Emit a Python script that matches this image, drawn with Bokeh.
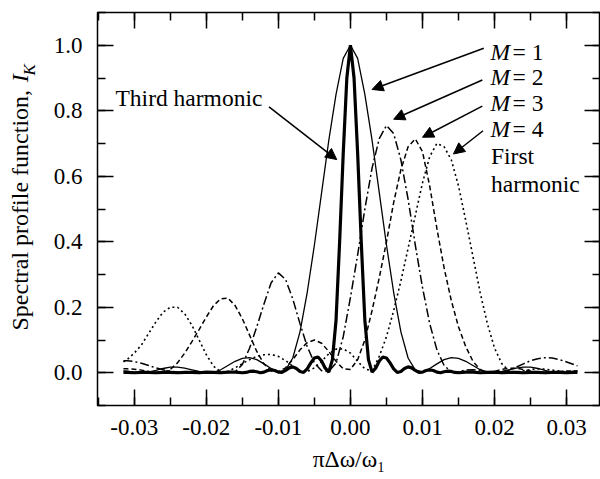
import math
from bokeh.plotting import figure
from bokeh.layouts import row
from bokeh.models import (Range1d, LinearAxis, SingleIntervalTicker, PrintfTickFormatter,
                          CustomJSTickFormatter, Arrow, NormalHead)
from bokeh.core.properties import value
from bokeh.embed import file_html
from bokeh.resources import INLINE

FONT = "Liberation Serif"

# ---------------- data ----------------
x_grid = [-0.0315, -0.031, -0.030, -0.029, -0.028, -0.027, -0.026, -0.025, -0.024, -0.023,
          -0.022, -0.021, -0.020, -0.019, -0.018, -0.017, -0.016, -0.015, -0.014, -0.013,
          -0.012, -0.011, -0.010, -0.009, -0.008, -0.007, -0.006, -0.005, -0.004, -0.003,
          -0.002, -0.001, 0.000, 0.001, 0.002, 0.003, 0.004, 0.005, 0.006, 0.007,
          0.008, 0.009, 0.010, 0.011, 0.012, 0.013, 0.014, 0.015, 0.016, 0.017,
          0.018, 0.019, 0.020, 0.021, 0.022, 0.023, 0.024, 0.025, 0.026, 0.027,
          0.028, 0.029, 0.030, 0.031, 0.0315]

m1 = [0.006, 0.005, 0.002, 0.000, 0.002, 0.007, 0.013, 0.017, 0.017, 0.014,
      0.009, 0.004, 0.001, 0.001, 0.009, 0.022, 0.035, 0.044, 0.046, 0.040,
      0.027, 0.013, 0.003, 0.008, 0.045, 0.125, 0.245, 0.390, 0.550, 0.710,
      0.850, 0.960, 1.000, 0.960, 0.850, 0.710, 0.550, 0.390, 0.245, 0.125,
      0.045, 0.008, 0.003, 0.013, 0.027, 0.040, 0.046, 0.044, 0.035, 0.022,
      0.009, 0.001, 0.001, 0.004, 0.009, 0.014, 0.017, 0.017, 0.013, 0.007,
      0.002, 0.000, 0.002, 0.005, 0.006]

m2 = [0.037, 0.037, 0.034, 0.029, 0.022, 0.015, 0.009, 0.005, 0.002, 0.001,
      0.001, 0.002, 0.003, 0.003, 0.002, 0.001, 0.003, 0.025, 0.075, 0.140,
      0.210, 0.275, 0.305, 0.285, 0.225, 0.150, 0.080, 0.030, 0.006, 0.004,
      0.030, 0.110, 0.230, 0.360, 0.500, 0.625, 0.715, 0.755, 0.730, 0.650,
      0.530, 0.390, 0.260, 0.150, 0.070, 0.022, 0.003, 0.004, 0.008, 0.009,
      0.007, 0.003, 0.001, 0.002, 0.008, 0.017, 0.027, 0.037, 0.043, 0.046,
      0.045, 0.040, 0.033, 0.025, 0.021]

m3 = [0.012, 0.012, 0.011, 0.008, 0.004, 0.001, 0.001, 0.010, 0.030, 0.060,
      0.095, 0.132, 0.170, 0.205, 0.226, 0.228, 0.205, 0.165, 0.115, 0.065,
      0.027, 0.006, 0.003, 0.015, 0.040, 0.070, 0.092, 0.100, 0.090, 0.065,
      0.035, 0.012, 0.010, 0.040, 0.100, 0.190, 0.290, 0.400, 0.520, 0.620,
      0.690, 0.714, 0.675, 0.570, 0.440, 0.320, 0.220, 0.140, 0.080, 0.035,
      0.010, 0.001, 0.004, 0.010, 0.014, 0.014, 0.010, 0.005, 0.002, 0.001,
      0.002, 0.004, 0.005, 0.005, 0.005]

m4 = [0.033, 0.040, 0.060, 0.085, 0.120, 0.155, 0.185, 0.200, 0.200, 0.180,
      0.145, 0.100, 0.055, 0.020, 0.003, 0.004, 0.015, 0.028, 0.040, 0.050,
      0.055, 0.056, 0.050, 0.037, 0.020, 0.006, 0.003, 0.015, 0.035, 0.058,
      0.072, 0.073, 0.060, 0.035, 0.012, 0.006, 0.050, 0.110, 0.190, 0.280,
      0.380, 0.480, 0.580, 0.660, 0.700, 0.690, 0.650, 0.570, 0.465, 0.355,
      0.245, 0.150, 0.075, 0.028, 0.005, 0.002, 0.006, 0.010, 0.012, 0.011,
      0.008, 0.005, 0.003, 0.002, 0.002]

th_x = [-0.0315, -0.031, -0.030, -0.029, -0.028, -0.027, -0.026, -0.025, -0.024, -0.023,
        -0.022, -0.021, -0.020, -0.019, -0.018, -0.017, -0.016, -0.015, -0.0145, -0.014,
        -0.0135, -0.013, -0.0125, -0.012, -0.0115, -0.011, -0.0105, -0.010, -0.0095, -0.009,
        -0.0085, -0.008, -0.0075, -0.007, -0.0065, -0.006, -0.0055, -0.005, -0.0045, -0.004,
        -0.0035, -0.003, -0.0025, -0.002, -0.0015, -0.001, -0.0005, 0.0,
        0.0005, 0.001, 0.0015, 0.002, 0.0025, 0.003, 0.0035, 0.004, 0.0045, 0.005,
        0.0055, 0.006, 0.0065, 0.007, 0.0075, 0.008, 0.0085, 0.009, 0.0095, 0.010,
        0.0105, 0.011, 0.0115, 0.012, 0.0125, 0.013, 0.0135, 0.014, 0.0145, 0.015,
        0.016, 0.017, 0.018, 0.019, 0.020, 0.021, 0.022, 0.023, 0.024, 0.025,
        0.026, 0.027, 0.028, 0.029, 0.030, 0.031, 0.0315]

th_y = [0.001, 0.001, 0.000, 0.001, 0.001, 0.000, 0.001, 0.001, 0.000, 0.001,
        0.001, 0.000, 0.002, 0.001, 0.000, 0.002, 0.002, 0.000, 0.001, 0.004,
        0.005, 0.003, 0.000, 0.002, 0.007, 0.009, 0.007, 0.002, 0.001, 0.007,
        0.015, 0.018, 0.013, 0.004, 0.001, 0.012, 0.030, 0.045, 0.048, 0.036,
        0.014, 0.002, 0.040, 0.160, 0.400, 0.670, 0.900, 1.000,
        0.900, 0.670, 0.400, 0.160, 0.040, 0.002, 0.014, 0.036, 0.048, 0.045,
        0.030, 0.012, 0.001, 0.004, 0.013, 0.018, 0.015, 0.007, 0.001, 0.002,
        0.007, 0.009, 0.007, 0.002, 0.000, 0.003, 0.005, 0.004, 0.001, 0.000,
        0.002, 0.002, 0.000, 0.001, 0.002, 0.000, 0.001, 0.001, 0.000, 0.001,
        0.001, 0.000, 0.001, 0.001, 0.000, 0.001, 0.001]

m_labels = ["1", "2", "3", "4"]

# ---------------- main figure ----------------
p = figure(width=560, height=479,
           x_range=Range1d(-0.0351, 0.0347), y_range=Range1d(-0.1, 1.1),
           output_backend="svg", toolbar_location=None,
           min_border_left=57, min_border_right=0, min_border_top=12, min_border_bottom=74)
p.background_fill_color = "white"
p.border_fill_color = "white"
p.xgrid.visible = False
p.ygrid.visible = False
p.outline_line_color = "black"
p.outline_line_width = 1.5


def style_axis(ax, ticker, fmt, standoff, fsize):
    ax.ticker = ticker
    ax.formatter = fmt
    ax.axis_line_color = None
    ax.major_tick_in = 16
    ax.major_tick_out = 0
    ax.minor_tick_in = 8
    ax.minor_tick_out = 0
    ax.major_tick_line_color = "black"
    ax.minor_tick_line_color = "black"
    ax.major_tick_line_width = 1.5
    ax.minor_tick_line_width = 1.5
    ax.major_label_standoff = standoff
    ax.major_label_text_font = FONT
    ax.major_label_text_font_size = fsize
    ax.major_label_text_color = "black"


xb = p.xaxis[0]
yl = p.yaxis[0]
style_axis(xb, SingleIntervalTicker(interval=0.01, num_minor_ticks=2),
           PrintfTickFormatter(format="%.2f"), 14, "23px")
style_axis(yl, SingleIntervalTicker(interval=0.2, num_minor_ticks=2),
           PrintfTickFormatter(format="%.1f"), 15, "23px")
xb.axis_label = "πΔω/ω₁"
xb.axis_label_text_font = FONT
xb.axis_label_text_font_size = "23.5px"
xb.axis_label_text_font_style = "normal"
xb.axis_label_text_color = "black"
xb.axis_label_standoff = 8

xt_ax = LinearAxis()
yr_ax = LinearAxis()
style_axis(xt_ax, SingleIntervalTicker(interval=0.01, num_minor_ticks=2),
           CustomJSTickFormatter(code="return ''"), 0, "1px")
style_axis(yr_ax, SingleIntervalTicker(interval=0.2, num_minor_ticks=2),
           CustomJSTickFormatter(code="return ''"), 0, "1px")
p.add_layout(xt_ax, "above")
p.add_layout(yr_ax, "right")

# ---------------- curves ----------------
p.line(x_grid, m4, line_color="black", line_width=1.6, line_dash="2 3")
p.line(x_grid, m3, line_color="black", line_width=1.5, line_dash="5 3")
p.line(x_grid, m2, line_color="black", line_width=1.5, line_dash="9 3 2 3")
p.line(x_grid, m1, line_color="black", line_width=1.3)
p.line(th_x, th_y, line_color="black", line_width=3.2)

# ---------------- annotations ----------------
TXT = dict(text_font=value(FONT), text_font_size="23.5px", text_color="black",
           text_baseline="alphabetic", text_align="left")
p.text(x=[-0.0326], y=[0.839], text=["Third harmonic"], **TXT)

m_y = [0.980, 0.902, 0.824, 0.744]
p.text(x=[0.01944] * 4, y=m_y, text=["M"] * 4, text_font_style="italic", **TXT)
p.text(x=[0.0225] * 4, y=m_y, text=["= " + s for s in m_labels], **TXT)
p.text(x=[0.0195, 0.0195], y=[0.661, 0.575], text=["First", "harmonic"], **TXT)

arrows = [
    (0.0185, 0.991, 0.0030, 0.865),
    (0.0183, 0.894, 0.0060, 0.774),
    (0.0183, 0.814, 0.0100, 0.719),
    (0.0184, 0.739, 0.0143, 0.668),
    (-0.0113, 0.812, -0.0019, 0.651),
]
for xs, ys, xe, ye in arrows:
    p.add_layout(Arrow(x_start=xs, y_start=ys, x_end=xe, y_end=ye,
                       line_color="black", line_width=1.5,
                       end=NormalHead(size=11, fill_color="black", line_color="black",
                                      line_width=1)))

# ---------------- y-axis title strip (pixel coordinates, no axes) ----------------
q = figure(width=40, height=479, x_range=Range1d(0, 40), y_range=Range1d(0, 479),
           output_backend="svg", toolbar_location=None,
           x_axis_location=None, y_axis_location=None,
           min_border_left=0, min_border_right=0, min_border_top=0, min_border_bottom=0)
q.xgrid.visible = False
q.ygrid.visible = False
q.outline_line_color = None
q.background_fill_color = "white"
q.border_fill_color = "white"
LT = dict(text_font=value(FONT), text_color="black", text_baseline="middle",
          text_align="center", angle=math.pi / 2)
q.text(x=[19], y=[238], text=["Spectral profile function,"], text_font_size="24px", **LT)
q.text(x=[19], y=[399], text=["I"], text_font_size="24px", text_font_style="italic", **LT)
q.text(x=[29], y=[409], text=["K"], text_font_size="17px", text_font_style="italic", **LT)

layout = row(q, p)
open("out.html", "w").write(file_html(layout, INLINE))
